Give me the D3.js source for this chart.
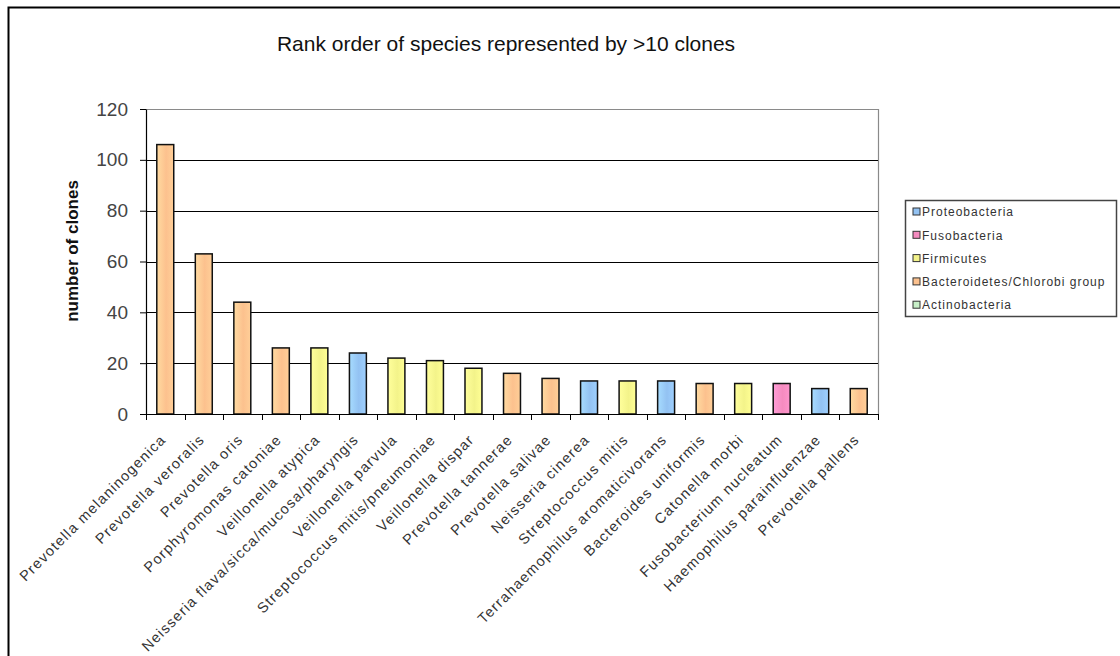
<!DOCTYPE html>
<html>
<head>
<meta charset="utf-8">
<script src="https://cdn.jsdelivr.net/npm/d3@7"></script>
<style>
  body { margin: 0; background: #fff; }
  svg { display: block; font-family: Arial, "Liberation Sans", sans-serif; }
</style>
</head>
<body>
<div id="chart"></div>
<script>
// chart data
var species = [
  "Prevotella melaninogenica",
  "Prevotella veroralis",
  "Prevotella oris",
  "Porphyromonas catoniae",
  "Veillonella atypica",
  "Neisseria flava/sicca/mucosa/pharyngis",
  "Veillonella parvula",
  "Streptococcus mitis/pneumoniae",
  "Veillonella dispar",
  "Prevotella tannerae",
  "Prevotella salivae",
  "Neisseria cinerea",
  "Streptococcus mitis",
  "Terrahaemophilus aromaticivorans",
  "Bacteroides uniformis",
  "Catonella morbi",
  "Fusobacterium nucleatum",
  "Haemophilus parainfluenzae",
  "Prevotella pallens",
];
var clones = [106, 63, 44, 26, 26, 24, 22, 21, 18, 16, 14, 13, 13, 13, 12, 12, 12, 10, 10];
var phylum = [
  "Bacteroidetes/Chlorobi group", "Bacteroidetes/Chlorobi group", "Bacteroidetes/Chlorobi group",
  "Bacteroidetes/Chlorobi group", "Firmicutes", "Proteobacteria", "Firmicutes", "Firmicutes",
  "Firmicutes", "Bacteroidetes/Chlorobi group", "Bacteroidetes/Chlorobi group", "Proteobacteria",
  "Firmicutes", "Proteobacteria", "Bacteroidetes/Chlorobi group", "Firmicutes", "Fusobacteria",
  "Proteobacteria", "Bacteroidetes/Chlorobi group",
];
var groups = ["Proteobacteria", "Fusobacteria", "Firmicutes", "Bacteroidetes/Chlorobi group", "Actinobacteria"];
var groupColors = ["#93c2f2", "#f58bbf", "#f3f38a", "#fcc18e", "#c8f0c8"];
var yTicks = [0, 20, 40, 60, 80, 100, 120];

var W = 1120, H = 656;
var plot = { left: 146, right: 878, top: 109, bottom: 414 };

var svg = d3.select("#chart").append("svg")
  .attr("width", W)
  .attr("height", H);

var color = d3.scaleOrdinal().domain(groups).range(groupColors);

// horizontal gradient like the old excel fill
var defs = svg.append("defs");
groups.forEach(function (g, i) {
  var c = d3.color(groupColors[i]);
  var grad = defs.append("linearGradient")
    .attr("id", "grad" + i)
    .attr("x1", "0%").attr("x2", "100%").attr("y1", "0%").attr("y2", "0%");
  grad.append("stop").attr("offset", "0%").attr("stop-color", c.brighter(0.35));
  grad.append("stop").attr("offset", "55%").attr("stop-color", c);
  grad.append("stop").attr("offset", "100%").attr("stop-color", c.brighter(0.2));
});

// outer frame (only left and top edges show)
svg.append("rect")
  .attr("x", 8.5).attr("y", 7.5)
  .attr("width", W + 20).attr("height", H + 20)
  .attr("fill", "none")
  .attr("stroke", "#000")
  .attr("stroke-width", 2);

var x = d3.scaleBand()
  .domain(species)
  .range([plot.left, plot.right])
  .paddingInner(0.56)
  .paddingOuter(0.28);

var y = d3.scaleLinear()
  .domain([0, 120])
  .range([plot.bottom, plot.top]);

// plot area border (top/right gray)
svg.append("path")
  .attr("d", "M" + plot.left + "," + (plot.top + 0.5) + "H" + (plot.right + 0.5) + "V" + plot.bottom)
  .attr("fill", "none")
  .attr("stroke", "#8a8a8a")
  .attr("stroke-width", 1.2);

// gridlines
svg.append("g")
  .selectAll("line")
  .data(yTicks.filter(function (t) { return t > 0 && t < 120; }))
  .enter()
  .append("line")
  .attr("x1", plot.left)
  .attr("x2", plot.right)
  .attr("y1", function (d) { return Math.round(y(d)) + 0.5; })
  .attr("y2", function (d) { return Math.round(y(d)) + 0.5; })
  .attr("stroke", "#000")
  .attr("stroke-width", 1);

// bars
svg.append("g")
  .selectAll("rect")
  .data(species)
  .enter()
  .append("rect")
  .attr("x", function (d) { return x(d); })
  .attr("y", function (d, i) { return y(clones[i]); })
  .attr("width", x.bandwidth())
  .attr("height", function (d, i) { return y(0) - y(clones[i]); })
  .attr("fill", function (d, i) { return "url(#grad" + groups.indexOf(phylum[i]) + ")"; })
  .attr("stroke", "#111")
  .attr("stroke-width", 1.5);

// y axis
var yAxis = svg.append("g")
  .attr("transform", "translate(" + plot.left + ",0)")
  .call(d3.axisLeft(y).tickValues(yTicks).tickSize(6).tickSizeOuter(0).tickPadding(12));
yAxis.select(".domain").attr("stroke", "#000").attr("stroke-width", 1.2);
yAxis.selectAll(".tick line").attr("stroke", "#000");
yAxis.selectAll(".tick text")
  .attr("font-size", "19px")
  .attr("font-family", "Arial, 'Liberation Sans', sans-serif")
  .attr("fill", "#444");

// x axis line + category separator ticks
svg.append("line")
  .attr("x1", plot.left).attr("x2", plot.right + 1)
  .attr("y1", plot.bottom + 0.5).attr("y2", plot.bottom + 0.5)
  .attr("stroke", "#000").attr("stroke-width", 1.2);

var step = x.step();
svg.append("g")
  .selectAll("line")
  .data(d3.range(species.length + 1))
  .enter()
  .append("line")
  .attr("x1", function (i) { return Math.round(plot.left + i * step) + 0.5; })
  .attr("x2", function (i) { return Math.round(plot.left + i * step) + 0.5; })
  .attr("y1", plot.bottom)
  .attr("y2", plot.bottom + 6)
  .attr("stroke", "#000");

// rotated category labels
svg.append("g")
  .selectAll("text")
  .data(species)
  .enter()
  .append("text")
  .attr("transform", function (d) {
    var cx = x(d) + x.bandwidth() / 2 - 2;
    return "translate(" + cx + "," + (plot.bottom + 23) + ") rotate(-45)";
  })
  .attr("text-anchor", "end")
  .attr("dy", "0.35em")
  .attr("font-size", "14.5px")
  .attr("letter-spacing", "1.2px")
  .attr("fill", "#333")
  .text(function (d) { return d; });

// title
svg.append("text")
  .attr("x", 506)
  .attr("y", 51)
  .attr("text-anchor", "middle")
  .attr("font-size", "21px")
  .attr("fill", "#111")
  .text("Rank order of species represented by >10 clones");

// y axis title
svg.append("text")
  .attr("transform", "translate(78,251) rotate(-90)")
  .attr("text-anchor", "middle")
  .attr("font-size", "17px")
  .attr("font-weight", "bold")
  .attr("fill", "#111")
  .text("number of clones");

// legend
var leg = svg.append("g").attr("transform", "translate(905,200)");
leg.append("rect")
  .attr("x", 0.5).attr("y", 0.5)
  .attr("width", 211).attr("height", 116)
  .attr("fill", "#fff")
  .attr("stroke", "#444")
  .attr("stroke-width", 1.5);

var items = leg.selectAll("g.item")
  .data(groups)
  .enter()
  .append("g")
  .attr("class", "item")
  .attr("transform", function (d, i) { return "translate(0," + (12 + i * 23.3) + ")"; });

items.append("rect")
  .attr("x", 8).attr("y", -4)
  .attr("width", 7).attr("height", 7)
  .attr("fill", function (d) { return color(d); })
  .attr("stroke", "#333")
  .attr("stroke-width", 1);

items.append("text")
  .attr("x", 17)
  .attr("dy", "0.35em")
  .attr("font-size", "12px")
  .attr("letter-spacing", "1px")
  .attr("fill", "#333")
  .text(function (d) { return d; });
</script>
</body>
</html>
